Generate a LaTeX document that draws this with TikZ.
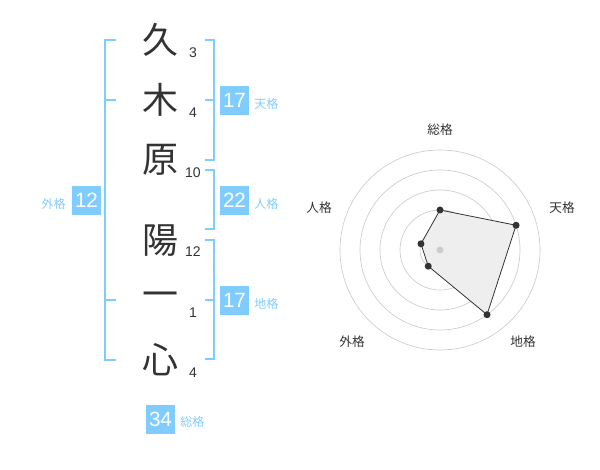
\documentclass[tikz,border=0pt]{standalone}
\usepackage{fontspec}
\setmainfont{Liberation Sans}
\newfontfamily\jpfont{Noto Sans CJK JP}
\usepackage{xcolor}
\usetikzlibrary{positioning}
\definecolor{kakublue}{RGB}{128,204,255}
\definecolor{moji}{RGB}{51,51,51}
\definecolor{wagray}{RGB}{204,204,204}
\definecolor{polygray}{RGB}{238,238,238}

\begin{document}
\begin{tikzpicture}[x=0.75pt,y=-0.75pt,
	kanji/.style={font=\jpfont\fontsize{27}{27}\selectfont,text=moji,inner sep=0pt},
	kakusu/.style={font=\fontsize{10.5}{10.5}\selectfont,text=moji,inner sep=0pt},
	kakubox/.style={fill=kakublue,text=white,minimum size=21.75pt,inner sep=0pt,font=\fontsize{15.5}{15.5}\selectfont},
	kakuname/.style={font=\jpfont\fontsize{9}{9}\selectfont,text=kakublue,inner sep=0pt},
	kakko/.style={draw=kakublue,line width=1.5pt},
	radarname/.style={font=\jpfont\fontsize{9.5}{9.5}\selectfont,text=moji,inner sep=0pt}]

	\useasboundingbox (0,0) rectangle (600,470);

	% name
	\node[kanji] (k1) at (160,40) {久};
	\node[kanji] (k2) at (160,100) {木};
	\node[kanji] (k3) at (160,160) {原};
	\node[kanji] (k4) at (160,241) {陽};
	\node[kanji] (k5) at (160,300) {一};
	\node[kanji] (k6) at (160,360) {心};

	\node[kakusu] (s1) at (193,53) {3};
	\node[kakusu] (s2) at (193,113) {4};
	\node[kakusu] (s3) at (193,173) {10};
	\node[kakusu] (s4) at (193,252) {12};
	\node[kakusu] (s5) at (193,313) {1};
	\node[kakusu] (s6) at (193,373) {4};

	% brackets
	\draw[kakko] (116,40) -- (105,40) -- (105,360) -- (116,360);
	\draw[kakko] (105,100) -- (116,100);
	\draw[kakko] (105,300) -- (116,300);
	\draw[kakko] (205,40) -- (214,40) -- (214,160) -- (205,160);
	\draw[kakko] (205,100) -- (214,100);
	\draw[kakko] (205,170) -- (214,170) -- (214,229) -- (205,229);
	\draw[kakko] (205,240) -- (214,240) -- (214,359) -- (205,359);
	\draw[kakko] (205,300) -- (214,300);

	\node[kakubox] (ten) at (234.5,100.5) {17};
	\node[kakuname,anchor=west] (tenname) at (254,104) {天格};
	\node[kakubox] (jin) at (234.5,200.5) {22};
	\node[kakuname,anchor=west] (jinname) at (254,204) {人格};
	\node[kakubox] (chi) at (234.5,300.5) {17};
	\node[kakuname,anchor=west] (chiname) at (254,304) {地格};
	\node[kakubox] (gai) at (86.5,200.5) {12};
	\node[kakuname,anchor=east] (gainame) at (66,204) {外格};
	\node[kakubox] (so) at (160.5,419) {34};
	\node[kakuname,anchor=west] (soname) at (180,422) {総格};

	% radar
	\begin{scope}[shift={(440,250)},y=0.75pt]
		\foreach \r in {20,40,...,100}
			\draw[wagray,line width=0.5pt] (0,0) circle (\r);
		\foreach \ang/\r/\nm in {90/40/so,18/80/ten,-54/80/chi,-126/20/gai,162/20/jin}
			\coordinate (p\nm) at (\ang:\r);
		\filldraw[fill=polygray,draw=moji,line width=0.6pt] (pso) -- (pten) -- (pchi) -- (pgai) -- (pjin) -- cycle;
		\fill[wagray] (0,0) circle (3.5);
		\foreach \nm in {so,ten,chi,gai,jin}
			\fill[moji] (p\nm) circle (3.5);
	\end{scope}

	\node[radarname] (rso) at (440,130) {総格};
	\node[radarname] (rten) at (562,208) {天格};
	\node[radarname] (rjin) at (319,208) {人格};
	\node[radarname] (rgai) at (352,342) {外格};
	\node[radarname] (rchi) at (523,342) {地格};

\end{tikzpicture}
\end{document}
